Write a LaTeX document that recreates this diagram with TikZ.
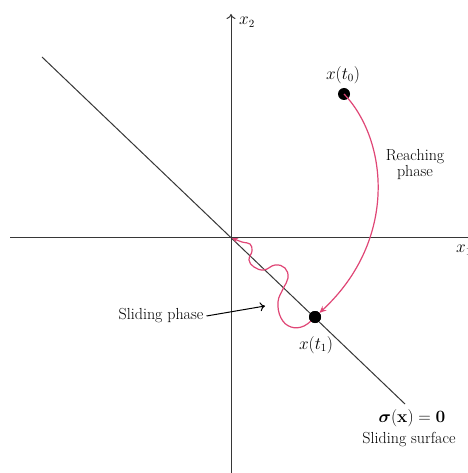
\documentclass[tikz,border=0pt]{standalone}
\usepackage{amsmath}
\usepackage{bm}
\usetikzlibrary{arrows.meta}
\definecolor{pinkc}{RGB}{224,70,118}
\definecolor{axisc}{RGB}{55,55,55}
\begin{document}
\begin{tikzpicture}[x=1pt,y=-1pt,
  lbl/.style={font=\fontsize{16}{18}\selectfont, inner sep=0pt, align=center},
  axisline/.style={draw=axisc, line width=1pt},
  pinkline/.style={draw=pinkc, line width=1.2pt},
  dot/.style={circle, fill=black, minimum size=12pt, inner sep=0pt}]
\useasboundingbox (0,0) rectangle (467,473);
\fill[white] (0,0) rectangle (467,473);
% coordinates
\coordinate (O) at (231,237);
\coordinate (xl) at (10,237);
\coordinate (xr) at (470,237);
\coordinate (yb) at (231,475);
\coordinate (yt) at (231,14);
\coordinate (dA) at (42,57);
\coordinate (dB) at (405,404);
% axes
\draw[axisline] (xl) -- (xr);
\draw[axisline, -{To[length=5pt,width=9pt]}] (yb) -- (yt);
\node[lbl, anchor=west] (x2) at (239,22) {$x_2$};
\node[lbl, anchor=west] (x1) at (456,250) {$x_1$};
% sliding surface
\draw[axisline] (dA) -- (dB);
% points
\node[dot] (t0) at (344,94) {};
\node[dot] (t1) at (315,317) {};
\node[lbl] (lt0) at (343,75) {$x(t_0)$};
\node[lbl] (lt1) at (316,345) {$x(t_1)$};
% reaching phase
\draw[pinkline, -{Stealth[open,length=7pt,width=6pt]}, shorten >=6pt]
  (t0.center) .. controls (388,140) and (398,240) .. (t1.center);
\node[lbl] (rp) at (415,165) {Reaching\\[-2pt]phase};
% sliding phase path
\draw[pinkline, -{Stealth[open,length=6pt,width=5pt]}] plot[smooth, tension=0.7] coordinates {
  (315,317) (304,326) (291,327) (281,318) (278,302) (283,289) (288,278)
  (285,268) (275,265) (264,270) (254,267) (249,260) (252,251) (250,244)
  (242,242) (232,238)};
\node[dot] at (t1) {};
% sliding phase label
\node[lbl] (sp) at (161,316) {Sliding phase};
\coordinate (spt) at (265,306);
\draw[line width=1pt, -{To[length=5pt,width=9pt]}] (sp.east) ++(3,0) -- (spt);
% surface label
\node[lbl] (sig) at (412,418) {$\bm{\sigma}(\mathbf{x}) = \mathbf{0}$};
\node[lbl] (ss) at (409,440) {Sliding surface};
\end{tikzpicture}
\end{document}
